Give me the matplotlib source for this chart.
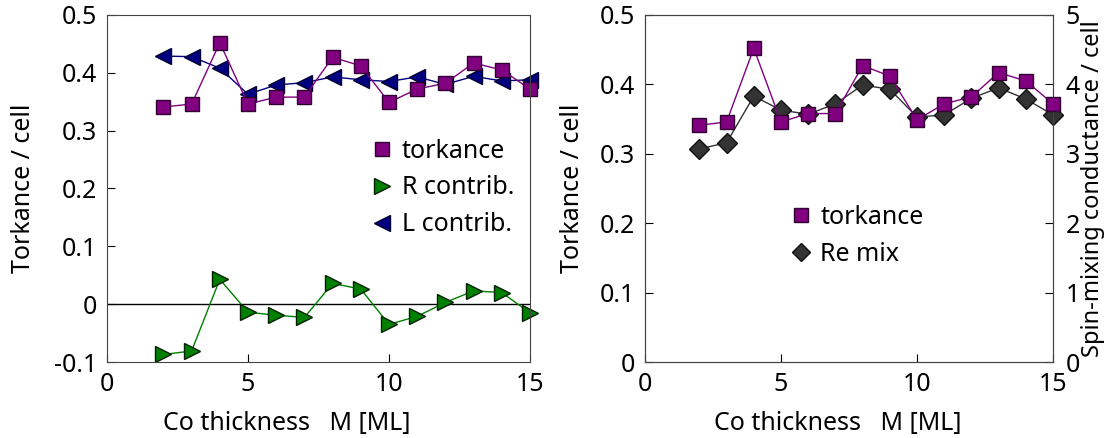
import matplotlib
matplotlib.use('Agg')
import matplotlib.pyplot as plt
from matplotlib.lines import Line2D

M = [2, 3, 4, 5, 6, 7, 8, 9, 10, 11, 12, 13, 14, 15]
torkance = [0.341, 0.346, 0.452, 0.346, 0.358, 0.358, 0.427, 0.412, 0.349, 0.372, 0.382, 0.417, 0.405, 0.372]
r_contrib = [-0.087, -0.081, 0.043, -0.014, -0.019, -0.023, 0.036, 0.026, -0.035, -0.021, 0.003, 0.023, 0.020, -0.015]
l_contrib = [0.429, 0.428, 0.408, 0.363, 0.379, 0.383, 0.393, 0.388, 0.385, 0.393, 0.380, 0.394, 0.386, 0.388]
re_mix = [3.07, 3.16, 3.83, 3.63, 3.57, 3.72, 3.99, 3.93, 3.53, 3.56, 3.80, 3.95, 3.79, 3.56]

plt.rcParams['font.family'] = ['Noto Sans', 'DejaVu Sans']
plt.rcParams['font.size'] = 18

fig = plt.figure(figsize=(11.12, 4.38), dpi=100)
W, H = 1112, 438
ax1 = fig.add_axes([107 / W, 1 - 362 / H, (530 - 107) / W, (362 - 15) / H])
ax2 = fig.add_axes([645 / W, 1 - 362 / H, (1053 - 645) / W, (362 - 15) / H])

purple = '#800080'
navy = '#000080'
green = '#008000'
grey = '#333333'


def leg_handle(marker, color, edge, ms):
    return Line2D([], [], ls='none', marker=marker, mfc=color, mec=edge, ms=ms)


# left panel
ax1.axhline(0, color='black', lw=1, zorder=1)
ax1.plot(M, l_contrib, '-<', color=navy, mfc=navy, mec='#000030', ms=12, lw=1, clip_on=False)
ax1.plot(M, torkance, '-s', color=purple, mfc=purple, mec='#300030', ms=10.5, lw=1, clip_on=False)
ax1.plot(M, r_contrib, '->', color=green, mfc=green, mec='#002000', ms=12, lw=1, clip_on=False)
ax1.set_xlim(0, 15)
ax1.set_ylim(-0.1, 0.5)
ax1.set_xticks([0, 5, 10, 15])
ax1.set_yticks([-0.1, 0, 0.1, 0.2, 0.3, 0.4, 0.5])
ax1.set_yticklabels(['-0.1', '0', '0.1', '0.2', '0.3', '0.4', '0.5'])
ax1.tick_params(direction='in', length=6, top=False, right=False, pad=7)
ax1.set_xlabel('Co thickness   M [ML]', labelpad=10)
ax1.xaxis.label.set_x(0.426)
ax1.set_ylabel('Torkance / cell', labelpad=13)
ax1.legend([leg_handle('s', purple, '#300030', 10),
            leg_handle('>', green, '#002000', 11),
            leg_handle('<', navy, '#000030', 11)],
           ['torkance', 'R contrib.', 'L contrib.'],
           loc='center left', bbox_to_anchor=(369 / W, 1 - 188 / H), bbox_transform=fig.transFigure,
           frameon=False, borderpad=0, borderaxespad=0,
           handletextpad=0.3, handlelength=1.0, labelspacing=0.47)

# right panel
ax2.plot(M, torkance, '-s', color=purple, mfc=purple, mec='#300030', ms=10.5, lw=1, zorder=3, clip_on=False)
ax2.set_xlim(0, 15)
ax2.set_ylim(0, 0.5)
ax2.set_xticks([0, 5, 10, 15])
ax2.set_yticks([0, 0.1, 0.2, 0.3, 0.4, 0.5])
ax2.set_yticklabels(['0', '0.1', '0.2', '0.3', '0.4', '0.5'])
ax2.tick_params(direction='in', length=6, pad=7)
ax2.set_xlabel('Co thickness   M [ML]', labelpad=10)
ax2.xaxis.label.set_x(0.473)
ax2.set_ylabel('Torkance / cell', labelpad=11)

ax3 = ax2.twinx()
ax3.plot(M, re_mix, '-D', color=grey, mfc=grey, mec='#111111', ms=10, lw=1, clip_on=False)
ax3.set_ylim(0, 5)
ax3.set_yticks([0, 1, 2, 3, 4, 5])
ax3.tick_params(direction='in', length=6, pad=9)
ax3.set_ylabel('Spin-mixing conductance / cell', fontsize=17, labelpad=1)
ax2.set_zorder(ax3.get_zorder() + 1)
ax2.patch.set_visible(False)

ax2.legend([leg_handle('s', purple, '#300030', 10),
            leg_handle('D', grey, '#111111', 9)],
           ['torkance', 'Re mix'],
           loc='center left', bbox_to_anchor=(788 / W, 1 - 236 / H), bbox_transform=fig.transFigure,
           frameon=False, borderpad=0, borderaxespad=0,
           handletextpad=0.3, handlelength=1.0, labelspacing=0.47)

for a in (ax1, ax2, ax3):
    for s in a.spines.values():
        s.set_color('#444444')

fig.savefig('out.png', dpi=100)
